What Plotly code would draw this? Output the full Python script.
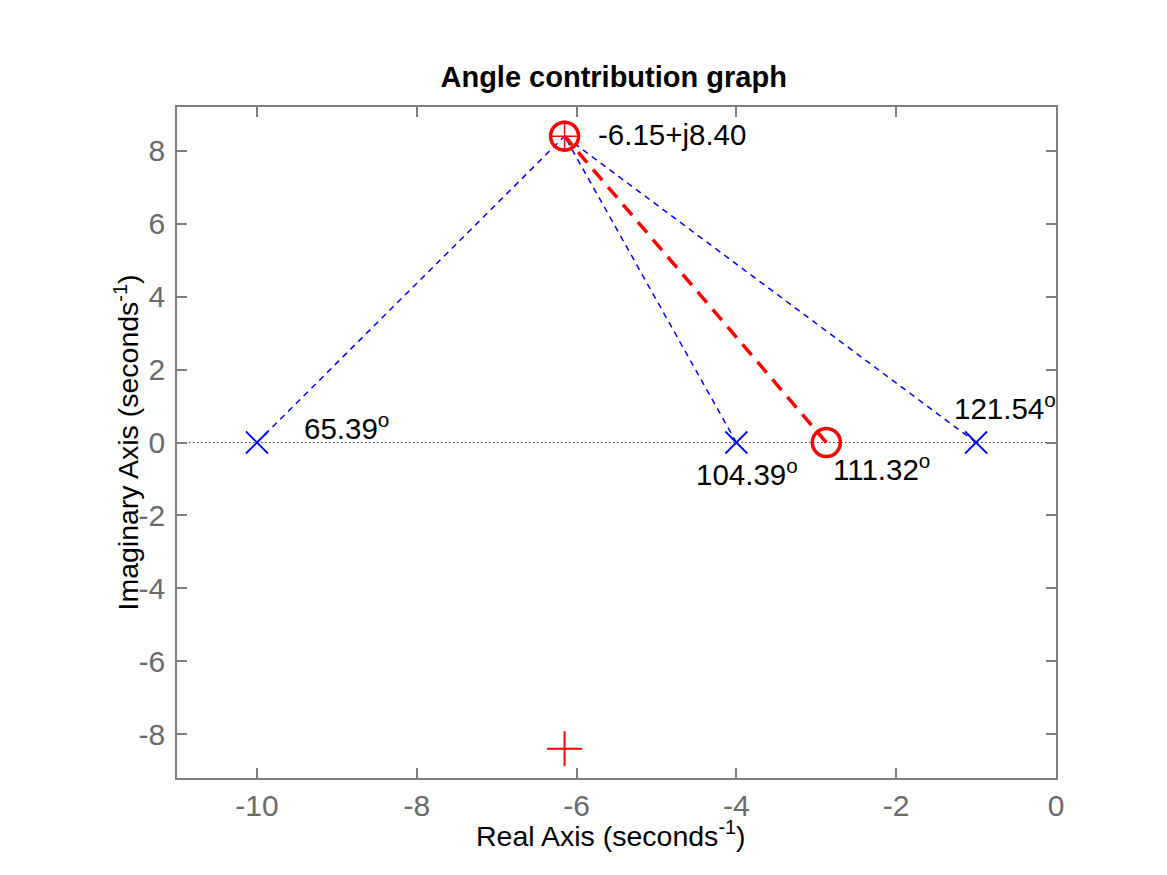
import plotly.graph_objects as go

# ---- data ----
poles_re = [-10.0, -4.0, -1.0]
poles_im = [0.0, 0.0, 0.0]
zeros_re = [-2.874]
zeros_im = [0.0]
test_re = -6.15
test_im = 8.40
conj_re = [-6.15]
conj_im = [-8.40]

angle_labels = ["65.39", "104.39", "121.54", "111.32"]
angle_x = [-9.43, -4.525, -1.30, -2.82]
angle_y = [0.45, -0.82, 0.98, -0.68]
point_label = "-6.15+j8.40"

x_ticks = [-10, -8, -6, -4, -2, 0]
y_ticks = [-8, -6, -4, -2, 0, 2, 4, 6, 8]

FONT = "Liberation Sans, Arial, Helvetica, sans-serif"
AX = "#7f7f7f"
TXT = "#6b6b6b"

fig = go.Figure()

# real axis dotted line
fig.add_trace(go.Scatter(x=[-11, 0], y=[0, 0], mode="lines",
                         line=dict(color="#333333", width=1.2, dash="1.5px,2.5px"),
                         hoverinfo="skip", showlegend=False))

# blue dashed lines from poles to test point
for pr, pi in zip(poles_re, poles_im):
    fig.add_trace(go.Scatter(x=[pr, test_re], y=[pi, test_im], mode="lines",
                             line=dict(color="#0000ff", width=1.5, dash="6px,5px"),
                             showlegend=False))

# red dashed line from zero to test point
for zr, zi in zip(zeros_re, zeros_im):
    fig.add_trace(go.Scatter(x=[zr, test_re], y=[zi, test_im], mode="lines",
                             line=dict(color="#ff0000", width=3.5, dash="14px,9px"),
                             showlegend=False))

# poles
fig.add_trace(go.Scatter(x=poles_re, y=poles_im, mode="markers",
                         marker=dict(symbol="x-thin-open", size=22, color="#0000ff",
                                     line=dict(color="#0000ff", width=1.8)),
                         showlegend=False))
# zero
fig.add_trace(go.Scatter(x=zeros_re, y=zeros_im, mode="markers",
                         marker=dict(symbol="circle-open", size=28, color="#ff0000",
                                     line=dict(color="#ff0000", width=3.5)),
                         showlegend=False))
# test point: circle + thin cross
fig.add_trace(go.Scatter(x=[test_re], y=[test_im], mode="markers",
                         marker=dict(symbol="circle-open", size=28, color="#ff0000",
                                     line=dict(color="#ff0000", width=3.5)),
                         showlegend=False))
fig.add_trace(go.Scatter(x=[test_re], y=[test_im], mode="markers",
                         marker=dict(symbol="cross-thin-open", size=22, color="#ff0000",
                                     line=dict(color="#ff0000", width=1.5)),
                         showlegend=False))
# conjugate point
fig.add_trace(go.Scatter(x=conj_re, y=conj_im, mode="markers",
                         marker=dict(symbol="cross-thin-open", size=25, color="#ff0000",
                                     line=dict(color="#ff0000", width=2)),
                         showlegend=False))

annotations = []
for lab, ax_, ay_ in zip(angle_labels, angle_x, angle_y):
    annotations.append(dict(x=ax_, y=ay_, xref="x", yref="y", text=lab + "<sup>o</sup>",
                            showarrow=False, xanchor="left", yanchor="middle",
                            font=dict(family=FONT, size=29.5, color="black")))
annotations.append(dict(x=-5.76, y=8.45, xref="x", yref="y", text=point_label,
                        showarrow=False, xanchor="left", yanchor="middle",
                        font=dict(family=FONT, size=29.5, color="black")))
# axis titles
annotations.append(dict(x=0.4937, y=-0.083, xref="paper", yref="paper",
                        text="Real Axis (seconds<sup>-1</sup>)", showarrow=False,
                        xanchor="center", yanchor="middle",
                        font=dict(family=FONT, size=28.5, color="black")))
annotations.append(dict(x=-0.058, y=0.5, xref="paper", yref="paper",
                        text="Imaginary Axis (seconds<sup>-1</sup>)", showarrow=False,
                        xanchor="center", yanchor="middle", textangle=-90,
                        font=dict(family=FONT, size=28.5, color="black")))

fig.update_layout(
    width=1167, height=875,
    margin=dict(l=169, r=119, t=99, b=105),
    paper_bgcolor="white", plot_bgcolor="white",
    font=dict(family=FONT, size=30, color=TXT),
    title=dict(text="<b>Angle contribution graph</b>", x=0.519, xanchor="center",
               y=0.921, yanchor="middle",
               font=dict(family=FONT, size=29, color="black")),
    annotations=annotations,
    showlegend=False,
)
fig.update_xaxes(range=[-11, 0], tickvals=x_ticks, ticktext=[str(v) for v in x_ticks],
                 ticks="inside", ticklen=10, tickcolor=AX, tickwidth=1.5,
                 showline=True, linecolor=AX, linewidth=1.5, mirror="ticks",
                 showgrid=False, zeroline=False,
                 tickfont=dict(family=FONT, size=30, color=TXT), ticklabelstandoff=0)
fig.update_yaxes(range=[-9.2, 9.2], tickvals=y_ticks, ticktext=[str(v) for v in y_ticks],
                 ticks="inside", ticklen=10, tickcolor=AX, tickwidth=1.5,
                 showline=True, linecolor=AX, linewidth=1.5, mirror="ticks",
                 showgrid=False, zeroline=False,
                 tickfont=dict(family=FONT, size=30, color=TXT), ticklabelstandoff=4)

fig.write_html("out.html")
